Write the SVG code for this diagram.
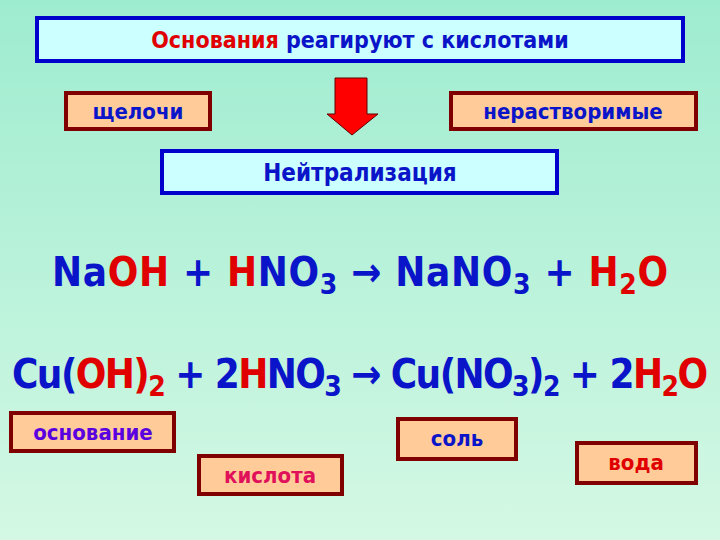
<svg xmlns="http://www.w3.org/2000/svg" width="720" height="540" viewBox="0 0 720 540">
<defs>
<linearGradient id="bg" x1="0" y1="0" x2="0" y2="1"><stop offset="0" stop-color="#9eecd0"/><stop offset="1" stop-color="#d4f8e4"/></linearGradient>
<style>
.t{font-family:"DejaVu Sans Condensed","DejaVu Sans",sans-serif;font-weight:bold}
.b{fill:#0a14c8}.r{fill:#e00000}
.bx1{fill:#ccffff;stroke:#0000cc;stroke-width:4}
.bx2{fill:#ffcc99;stroke:#800000;stroke-width:4}
.eq{font-family:"DejaVu Sans Condensed","DejaVu Sans",sans-serif;font-weight:bold;font-size:40px}
</style>
</defs>
<rect width="720" height="540" fill="url(#bg)"/>
<g id="title"><rect class="bx1" x="37" y="18" width="646" height="43"/><text class="t" x="360" y="48" font-size="23" text-anchor="middle"><tspan class="r">Основания</tspan><tspan class="b"> реагируют с кислотами</tspan></text></g>
<g id="alk"><rect class="bx2" x="66" y="93" width="144" height="36"/><text class="t b" x="138" y="119" font-size="22" text-anchor="middle">щелочи</text></g>
<g id="insol"><rect class="bx2" x="451" y="93" width="245" height="36"/><text class="t b" x="573" y="119" font-size="22" text-anchor="middle">нерастворимые</text></g>
<g id="conn"><polygon points="335,78 367,78 367,114 378,114 352,135 327,114 335,114" fill="#ff0000" stroke="#600000" stroke-width="1"/></g>
<g id="neut"><rect class="bx1" x="162" y="151" width="395" height="42"/><text class="t b" x="360" y="181" font-size="24" text-anchor="middle">Нейтрализация</text></g>
<text class="eq" x="52" y="286" textLength="616" lengthAdjust="spacing"><tspan class="b">Na</tspan><tspan class="r">OH</tspan><tspan class="b"> + </tspan><tspan class="r">H</tspan><tspan class="b">NO</tspan><tspan class="b" font-size="28" dy="8">3</tspan><tspan class="b" dy="-8"> → NaNO</tspan><tspan class="b" font-size="28" dy="8">3</tspan><tspan class="b" dy="-8"> + </tspan><tspan class="r">H</tspan><tspan class="r" font-size="28" dy="8">2</tspan><tspan class="r" dy="-8">O</tspan></text>
<text class="eq" x="12" y="388" textLength="696" lengthAdjust="spacing"><tspan class="b">Cu(</tspan><tspan class="r">OH)</tspan><tspan class="r" font-size="28" dy="8">2</tspan><tspan class="b" dy="-8"> + 2</tspan><tspan class="r">H</tspan><tspan class="b">NO</tspan><tspan class="b" font-size="28" dy="8">3</tspan><tspan class="b" dy="-8"> → Cu(NO</tspan><tspan class="b" font-size="28" dy="8">3</tspan><tspan class="b" dy="-8">)</tspan><tspan class="b" font-size="28" dy="8">2</tspan><tspan class="b" dy="-8"> + 2</tspan><tspan class="r">H</tspan><tspan class="r" font-size="28" dy="8">2</tspan><tspan class="r" dy="-8">O</tspan></text>
<g id="base"><rect class="bx2" x="11" y="413" width="163" height="38"/><text class="t" x="93" y="440" font-size="22" text-anchor="middle" fill="#5a00e0">основание</text></g>
<g id="acid"><rect class="bx2" x="199" y="456" width="143" height="38"/><text class="t" x="270" y="483" font-size="22" text-anchor="middle" fill="#e0105a">кислота</text></g>
<g id="salt"><rect class="bx2" x="398" y="419" width="118" height="40"/><text class="t b" x="457" y="446" font-size="22" text-anchor="middle">соль</text></g>
<g id="water"><rect class="bx2" x="577" y="443" width="119" height="40"/><text class="t r" x="636" y="470" font-size="22" text-anchor="middle">вода</text></g>
</svg>
